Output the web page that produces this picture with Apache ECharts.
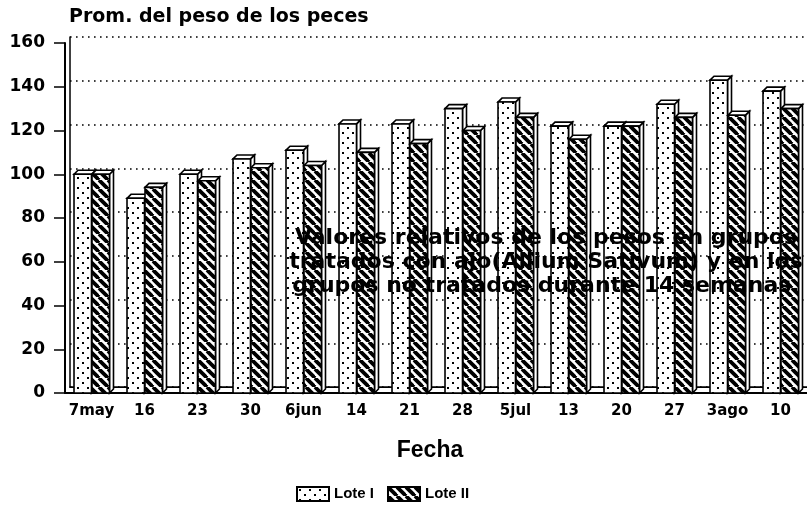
<!DOCTYPE html>
<html>
<head>
<meta charset="utf-8">
<script src="https://cdn.jsdelivr.net/npm/echarts@6/dist/echarts.min.js"></script>
<style>
  html, body { margin: 0; padding: 0; background: #fff; }
  #chart { width: 807px; height: 519px; }
</style>
</head>
<body>
<div id="chart"></div>
<script>
// datos
const categories = ['7may', '16', '23', '30', '6jun', '14', '21', '28', '5jul', '13', '20', '27', '3ago', '10'];
const loteI  = [100, 89, 100, 107, 111, 123, 123, 130, 133, 122, 122, 132, 143, 138];
const loteII = [100, 94, 97, 103, 104, 110, 114, 120, 126, 116, 122, 126, 127, 130];
const noteLines = [
  'Valores relativos de los pesos en grupos',
  'tratados con ajo(Allium Sativum) y en los',
  'grupos no tratados durante 14 semanas.'
];

const FONT = 'DejaVu Sans';

// tramas: puntos (Lote I) y rayado (Lote II)
function dotPattern() {
  const c = document.createElement('canvas');
  c.width = 10; c.height = 10;
  const ctx = c.getContext('2d');
  ctx.fillStyle = '#fff';
  ctx.fillRect(0, 0, 10, 10);
  ctx.fillStyle = '#000';
  ctx.fillRect(2, 2, 2, 2);
  ctx.fillRect(7, 7, 2, 2);
  return { image: c, repeat: 'repeat' };
}

function hatchPattern() {
  const c = document.createElement('canvas');
  c.width = 9; c.height = 9;
  const ctx = c.getContext('2d');
  ctx.fillStyle = '#fff';
  ctx.fillRect(0, 0, 9, 9);
  ctx.strokeStyle = '#000';
  ctx.lineWidth = 3.8;
  for (let o = -9; o <= 9; o += 9) {
    ctx.beginPath();
    ctx.moveTo(o, 0);
    ctx.lineTo(o + 9, 9);
    ctx.stroke();
  }
  return { image: c, repeat: 'repeat' };
}

const dots = dotPattern();
const hatch = hatchPattern();

// barra con efecto 3D (cara frontal, superior y lateral)
function bar3D(side, fill) {
  return function (params, api) {
    const idx = api.value(0);
    const top = api.coord([idx, api.value(1)]);
    const base = api.coord([idx, 0]);
    const band = api.size([1, 0])[0];
    const w = band * 0.33;
    const d = 4;
    const x0 = side < 0 ? top[0] - w : top[0] + 0.5;
    const yt = top[1], yb = base[1];
    const st = { fill: '#fff', stroke: '#000', lineWidth: 1.6 };
    return {
      type: 'group',
      children: [
        { type: 'polygon', shape: { points: [[x0 + w, yt], [x0 + w + d, yt - d], [x0 + w + d, yb - d], [x0 + w, yb]] }, style: st },
        { type: 'polygon', shape: { points: [[x0, yt], [x0 + d, yt - d], [x0 + w + d, yt - d], [x0 + w, yt]] }, style: st },
        { type: 'rect', shape: { x: x0, y: yt, width: w, height: yb - yt }, style: { fill: fill, stroke: '#000', lineWidth: 1.6 } }
      ]
    };
  };
}

const chart = echarts.init(document.getElementById('chart'));

chart.setOption({
  backgroundColor: '#fff',
  animation: false,
  textStyle: { fontFamily: FONT, color: '#000' },
  title: [
    {
      text: 'Prom. del peso de los peces',
      left: 64, top: 3,
      textStyle: { fontFamily: FONT, fontWeight: 'bold', fontSize: 19, color: '#000' }
    },
    {
      text: 'Fecha',
      left: 425, top: 434, textAlign: 'center',
      textStyle: { fontFamily: 'Liberation Sans', fontWeight: 'bold', fontSize: 23, color: '#000' }
    }
  ],
  legend: {
    left: 296, top: 486, padding: 0,
    itemWidth: 32, itemHeight: 14, itemGap: 13,
    icon: 'rect',
    textStyle: { fontFamily: 'Liberation Sans', fontWeight: 'bold', fontSize: 15, color: '#000' },
    data: ['Lote I', 'Lote II']
  },
  grid: [
    { left: 65, right: 0, top: 43, bottom: 126 },
    { left: 70, right: -6, top: 37, bottom: 132 }
  ],
  xAxis: [
    {
      gridIndex: 0, type: 'category', data: categories,
      axisLine: { lineStyle: { color: '#000', width: 2 } },
      axisTick: { alignWithLabel: true, length: 7, lineStyle: { color: '#000', width: 1.5 } },
      axisLabel: { color: '#000', fontFamily: FONT, fontWeight: 'bold', fontSize: 15, margin: 11, interval: 0 },
      splitLine: { show: false }
    },
    {
      gridIndex: 1, type: 'value', position: 'top', min: 0, max: 1,
      axisLine: { show: true, lineStyle: { color: '#000', width: 1.5 } },
      axisTick: { show: false }, axisLabel: { show: false }, splitLine: { show: false }
    },
    {
      gridIndex: 1, type: 'value', position: 'bottom', min: 0, max: 1,
      axisLine: { show: true, lineStyle: { color: '#000', width: 1.2 } },
      axisTick: { show: false }, axisLabel: { show: false }, splitLine: { show: false }
    }
  ],
  yAxis: [
    {
      gridIndex: 0, type: 'value', min: 0, max: 160, interval: 20,
      axisLine: { show: true, lineStyle: { color: '#000', width: 2 } },
      axisTick: { show: true, length: 11, lineStyle: { color: '#000', width: 1.5 } },
      axisLabel: { color: '#000', fontFamily: FONT, fontWeight: 'bold', fontSize: 17, margin: 20 },
      splitLine: { show: false }
    },
    {
      gridIndex: 1, type: 'value', min: 0, max: 160, interval: 20,
      axisLine: { show: true, lineStyle: { color: '#000', width: 1.5 } },
      axisTick: { show: false }, axisLabel: { show: false },
      splitLine: { show: true, lineStyle: { color: '#000', width: 1.6, type: [1.6, 4.4] } }
    }
  ],
  graphic: noteLines.map((t, i) => ({
    type: 'text',
    x: 546, y: 238 + i * 24,
    z: 10,
    style: {
      text: t,
      textAlign: 'center',
      textVerticalAlign: 'middle',
      fill: '#000',
      font: 'bold 22px "' + FONT + '"'
    }
  })),
  series: [
    {
      name: 'Lote I', type: 'custom',
      xAxisIndex: 0, yAxisIndex: 0,
      itemStyle: { color: dots, borderColor: '#000', borderWidth: 1.5 },
      renderItem: bar3D(-1, dots),
      encode: { x: 0, y: 1 },
      data: loteI.map((v, i) => [i, v])
    },
    {
      name: 'Lote II', type: 'custom',
      xAxisIndex: 0, yAxisIndex: 0,
      itemStyle: { color: hatch, borderColor: '#000', borderWidth: 1.5 },
      renderItem: bar3D(1, hatch),
      encode: { x: 0, y: 1 },
      data: loteII.map((v, i) => [i, v])
    }
  ]
});
</script>
</body>
</html>
